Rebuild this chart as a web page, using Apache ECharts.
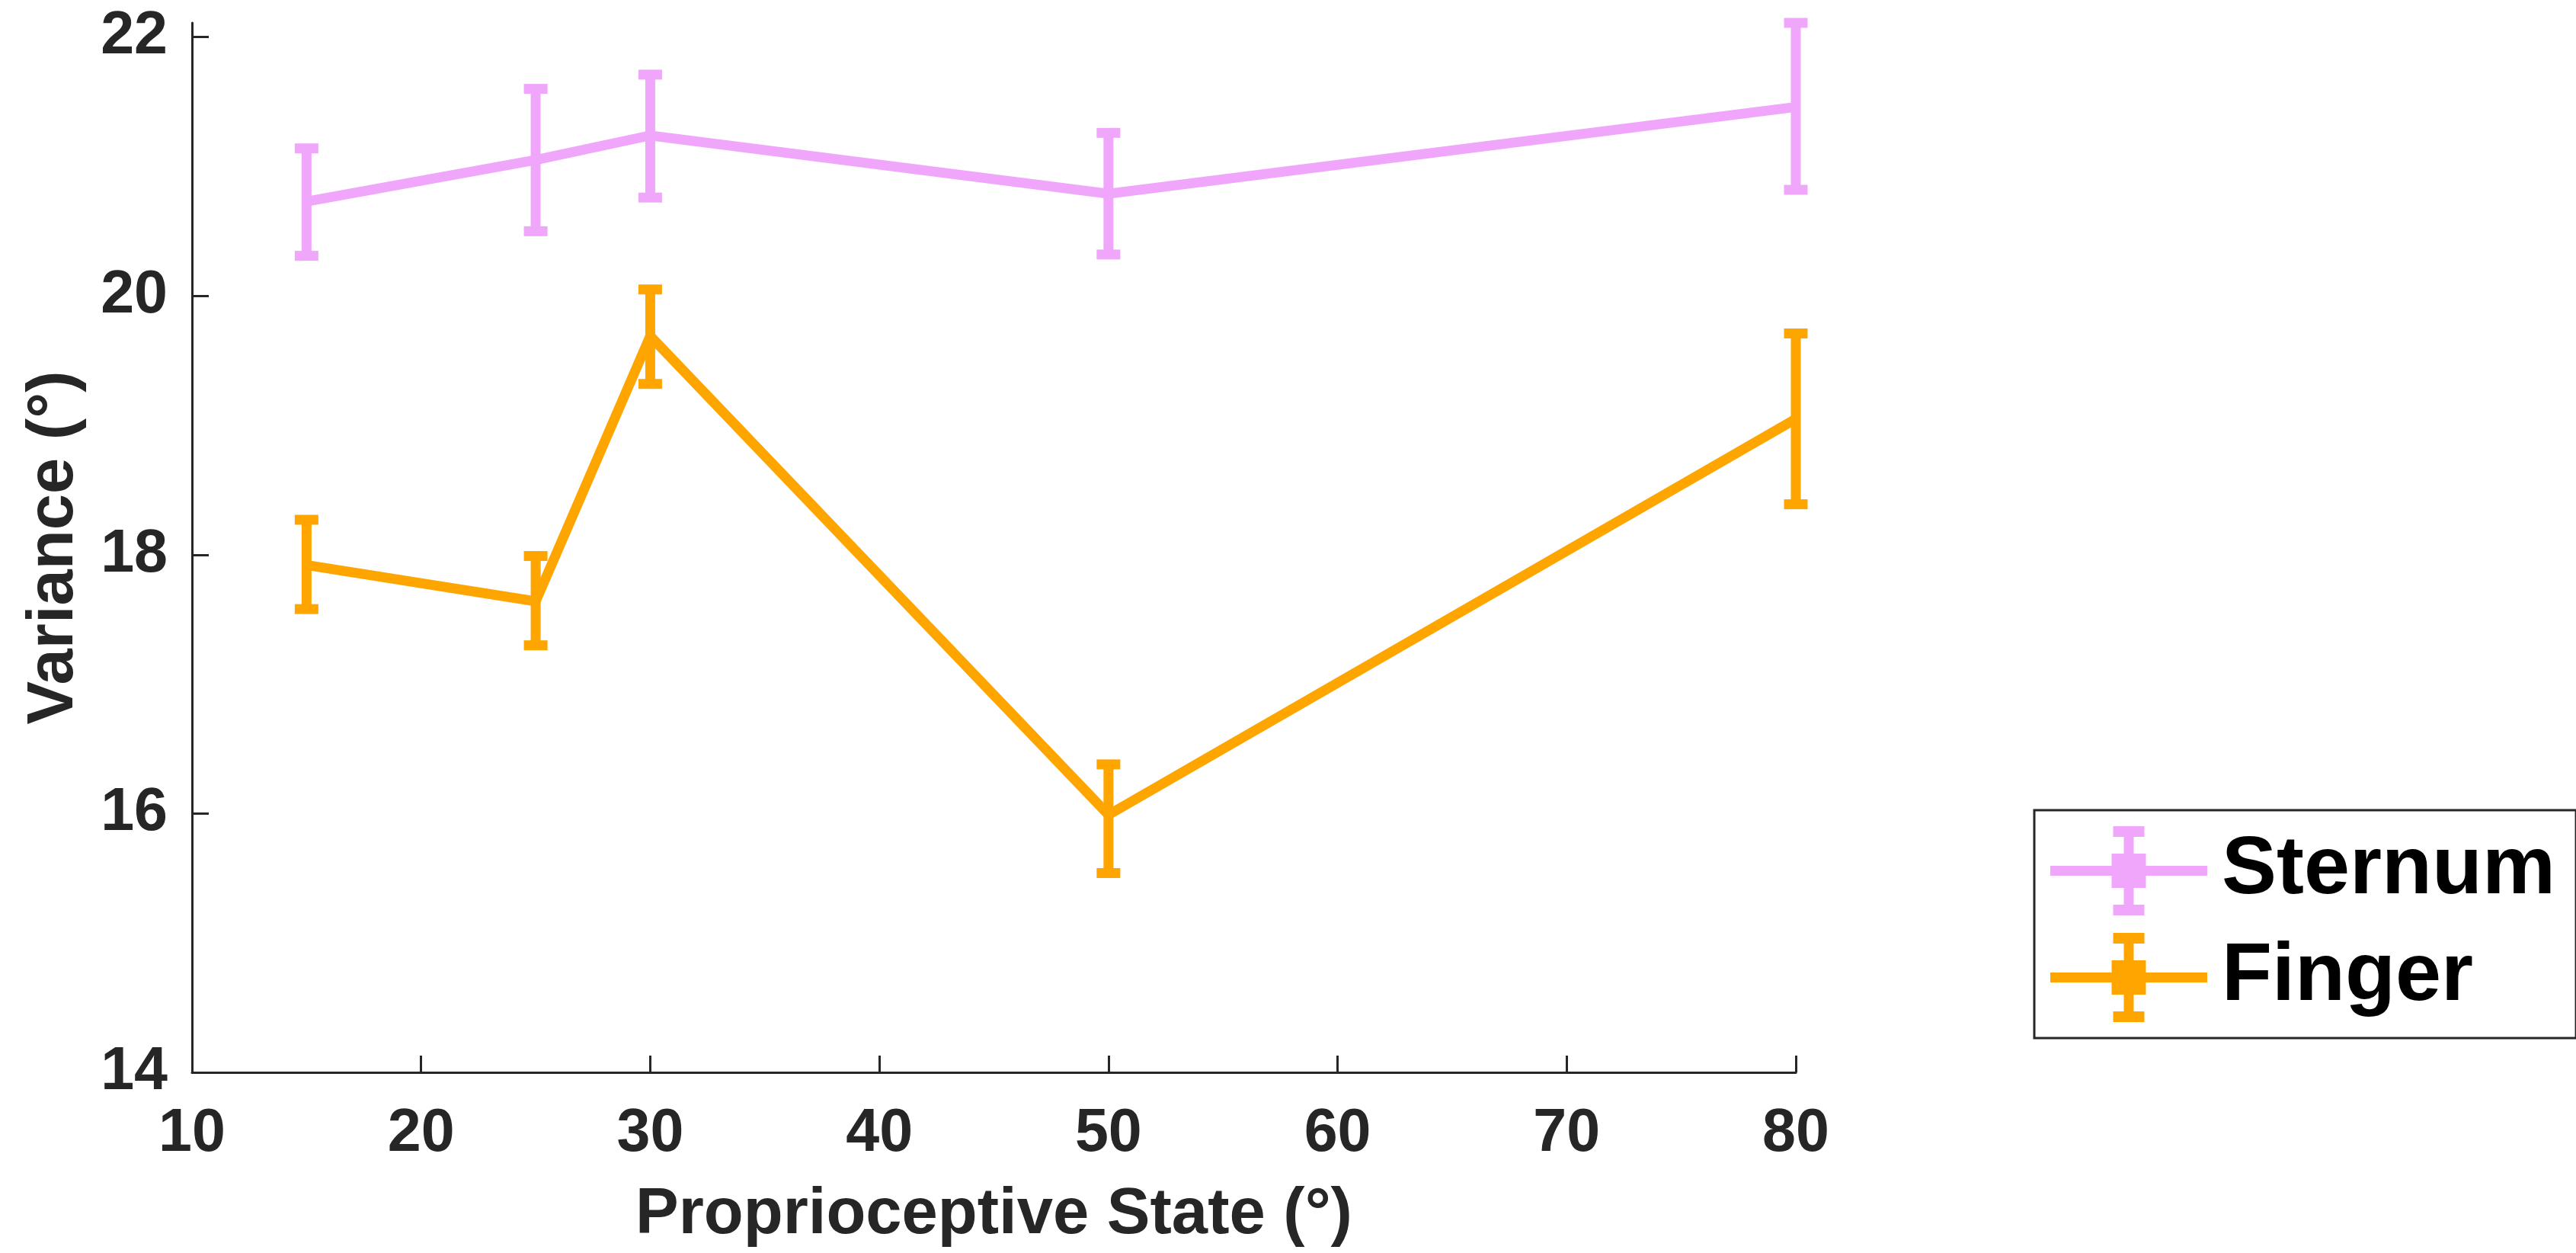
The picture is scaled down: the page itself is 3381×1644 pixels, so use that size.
<!DOCTYPE html>
<html>
<head>
<meta charset="utf-8">
<script src="https://cdn.jsdelivr.net/npm/echarts@6/dist/echarts.min.js"></script>
<style>
  html, body { margin: 0; padding: 0; background: #ffffff; }
  #chart { width: 3381px; height: 1644px; }
</style>
</head>
<body>
<div id="chart"></div>
<script>
// ---- data ----
const xValues      = [15, 25, 30, 50, 80];
const sternumMean  = [20.73, 21.05, 21.24, 20.79, 21.46];
const sternumLow   = [20.31, 20.50, 20.76, 20.32, 20.82];
const sternumHigh  = [21.14, 21.60, 21.71, 21.26, 22.11];
const fingerMean   = [17.92, 17.64, 19.69, 15.99, 19.05];
const fingerLow    = [17.58, 17.30, 19.32, 15.54, 18.39];
const fingerHigh   = [18.27, 17.99, 20.05, 16.38, 19.71];
const xTicks       = [10, 20, 30, 40, 50, 60, 70, 80];
const yTicks       = [14, 16, 18, 20, 22];
const seriesNames  = ['Sternum', 'Finger'];

const COLORS = { Sternum: '#F0A6FA', Finger: '#FFA500' };
const AXIS = '#262626';
const FONT = '"Liberation Sans", Arial, Helvetica, sans-serif';

const legendIcon = 'path://M0 52H206V65H0Z M80.5 36H125.5V81H80.5Z M96.5 0H109.5V117H96.5Z M82.5 0H123.5V14H82.5Z M82.5 103H123.5V117H82.5Z';

function pairs(xs, ys) { return xs.map((x, i) => [x, ys[i]]); }
function errData(xs, lo, hi) { return xs.map((x, i) => [x, lo[i], hi[i]]); }

function errRender(color) {
  return function (params, api) {
    const x = api.value(0);
    const lo = api.coord([x, api.value(1)]);
    const hi = api.coord([x, api.value(2)]);
    const half = 15.5;
    const style = { stroke: color, lineWidth: 13, lineCap: 'butt', fill: null };
    return {
      type: 'group',
      children: [
        { type: 'line', shape: { x1: lo[0], y1: lo[1], x2: hi[0], y2: hi[1] }, style: style },
        { type: 'line', shape: { x1: hi[0] - half, y1: hi[1], x2: hi[0] + half, y2: hi[1] }, style: style },
        { type: 'line', shape: { x1: lo[0] - half, y1: lo[1], x2: lo[0] + half, y2: lo[1] }, style: style }
      ]
    };
  };
}

const chart = echarts.init(document.getElementById('chart'), null, { renderer: 'canvas' });

const option = {
  animation: false,
  backgroundColor: '#ffffff',
  grid: { left: 252, right: 1024, top: 30, bottom: 237, containLabel: false, outerBoundsMode: 'none' },
  xAxis: {
    type: 'value', min: 10, max: 80, interval: 10,
    name: 'Proprioceptive State (°)', nameLocation: 'middle', nameGap: 145,
    nameTextStyle: { fontSize: 85, fontWeight: 'bold', color: AXIS, fontFamily: FONT },
    axisLine: { show: true, onZero: false, lineStyle: { color: AXIS, width: 3 } },
    axisTick: { show: true, inside: true, length: 22, lineStyle: { color: AXIS, width: 3 }, customValues: xTicks },
    axisLabel: { fontSize: 79, fontWeight: 'bold', color: AXIS, fontFamily: FONT, margin: 42, customValues: xTicks },
    splitLine: { show: false }
  },
  yAxis: {
    type: 'value', min: 14, max: 22.11, interval: 2,
    name: 'Variance (°)', nameLocation: 'middle', nameGap: 138, nameRotate: 90,
    nameTextStyle: { fontSize: 85, fontWeight: 'bold', color: AXIS, fontFamily: FONT },
    axisLine: { show: true, onZero: false, lineStyle: { color: AXIS, width: 3 } },
    axisTick: { show: true, inside: true, length: 22, lineStyle: { color: AXIS, width: 3 }, customValues: yTicks },
    axisLabel: { fontSize: 79, fontWeight: 'bold', color: AXIS, fontFamily: FONT, margin: 32, customValues: yTicks },
    splitLine: { show: false }
  },
  legend: {
    orient: 'vertical', left: 2670, top: 1063,
    padding: [21, 27, 21, 21], itemGap: 23,
    itemWidth: 206, itemHeight: 117,
    borderColor: AXIS, borderWidth: 3, backgroundColor: '#ffffff',
    itemStyle: { borderWidth: 0 },
    textStyle: { fontSize: 108, fontWeight: 'bold', color: '#000000', fontFamily: FONT, padding: [0, 0, 0, 14] },
    data: seriesNames.map(n => ({ name: n, icon: legendIcon }))
  },
  series: [
    {
      name: 'Sternum', type: 'line', data: pairs(xValues, sternumMean),
      symbol: 'none', color: COLORS.Sternum,
      itemStyle: { color: COLORS.Sternum },
      lineStyle: { color: COLORS.Sternum, width: 13, cap: 'butt', join: 'miter' }, z: 3
    },
    {
      name: 'Sternum', type: 'custom', data: errData(xValues, sternumLow, sternumHigh),
      encode: { x: 0, y: [1, 2] }, color: COLORS.Sternum, itemStyle: { color: COLORS.Sternum },
      renderItem: errRender(COLORS.Sternum), z: 3
    },
    {
      name: 'Finger', type: 'line', data: pairs(xValues, fingerMean),
      symbol: 'none', color: COLORS.Finger,
      itemStyle: { color: COLORS.Finger },
      lineStyle: { color: COLORS.Finger, width: 13, cap: 'butt', join: 'miter' }, z: 4
    },
    {
      name: 'Finger', type: 'custom', data: errData(xValues, fingerLow, fingerHigh),
      encode: { x: 0, y: [1, 2] }, color: COLORS.Finger, itemStyle: { color: COLORS.Finger },
      renderItem: errRender(COLORS.Finger), z: 4
    }
  ]
};

chart.setOption(option);
</script>
</body>
</html>
